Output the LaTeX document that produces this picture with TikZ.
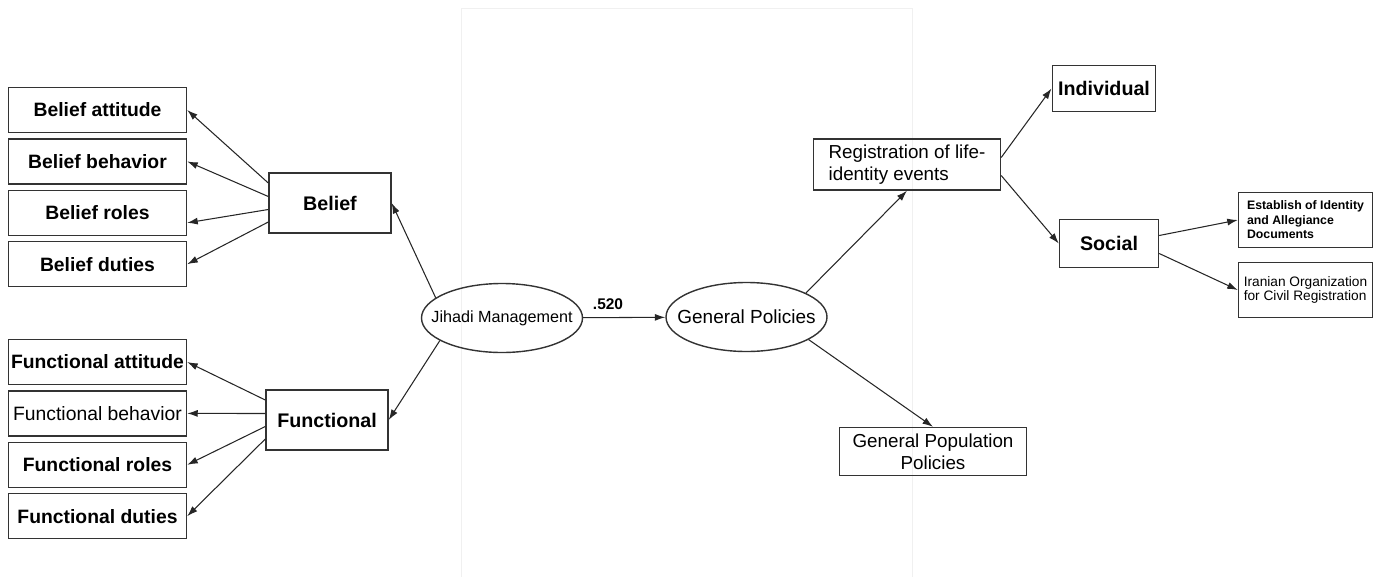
\documentclass[tikz,border=0pt]{standalone}
\usepackage{fontspec}
\setmainfont{Liberation Sans}
\usetikzlibrary{arrows.meta,positioning,shapes}
\tikzstyle{item}=[
	rectangle,
	draw=black!80,
	line width=0.8pt,
	minimum width=3.56cm,
	minimum height=0.9cm,
	inner sep=1pt,
	font=\fontsize{11}{13}\selectfont\bfseries]
\tikzstyle{factor}=[
	rectangle,
	draw=black!80,
	line width=0.8pt,
	minimum width=2.44cm,
	minimum height=1.2cm,
	font=\fontsize{11.2}{13}\selectfont\bfseries]
\tikzstyle{latent}=[
	ellipse,
	draw=black!80,
	line width=0.8pt,
	minimum width=3.22cm,
	minimum height=1.38cm,
	inner sep=0pt]
\tikzstyle{box}=[
	rectangle,
	draw=black!80,
	line width=0.8pt,
	minimum width=3.74cm,
	minimum height=0.96cm,
	font=\fontsize{10.7}{12.4}\selectfont]
\tikzstyle{small}=[
	rectangle,
	draw=black!80,
	line width=0.8pt,
	minimum width=2.68cm,
	minimum height=1.1cm,
	align=left,
	inner sep=1pt]
\tikzstyle{link}=[->,line width=0.6pt,draw=black!85]

\begin{document}
\begin{tikzpicture}[>={Latex[length=6pt,width=4pt]}]
	\useasboundingbox (0,0) rectangle (27.56,-11.54);
	\draw[black!6] (9.22,-11.54) -- (9.22,-0.16) -- (18.24,-0.16) -- (18.24,-11.54);

	\node[item] (batt) at (1.95,-2.2) {Belief attitude};
	\node[item] (bbeh) [below=0.1 of batt] {Belief behavior};
	\node[item] (brol) [below=0.1 of bbeh] {Belief roles};
	\node[item] (bdut) [below=0.1 of brol] {Belief duties};
	\node[item] (fatt) at (1.95,-7.24) {Functional attitude};
	\node[item,font=\fontsize{11}{13}\selectfont] (fbeh) [below=0.1 of fatt] {Functional behavior};
	\node[item] (frol) [below=0.1 of fbeh] {Functional roles};
	\node[item] (fdut) [below=0.1 of frol] {Functional duties};

	\node[factor] (belief) at (6.6,-4.06) {Belief};
	\node[factor] (func) at (6.54,-8.4) {Functional};

	\node[latent,font=\fontsize{9.2}{11}\selectfont] (jm) at (10.04,-6.36) {\makebox[2cm]{Jihadi Management}};
	\node[latent,font=\fontsize{10.8}{12}\selectfont] (gp) at (14.93,-6.34) {\makebox[2cm]{General Policies}};
	\node[font=\fontsize{8.8}{10}\selectfont\bfseries] (coef) at (12.16,-6.08) {.520};

	\node[box,align=left] (reg) at (18.14,-3.29) {Registration of life-\\identity events};
	\node[box,align=center] (gpp) at (18.66,-9.03) {General Population\\Policies};
	\node[factor,minimum width=1.94cm,minimum height=0.92cm] (ind) at (22.08,-1.77) {Individual};
	\node[factor,minimum width=1.98cm,minimum height=0.96cm] (soc) at (22.18,-4.87) {Social};
	\node[small,font=\fontsize{7}{8.2}\selectfont\bfseries] (est) at (26.11,-4.4) {Establish of Identity\\and Allegiance\\Documents};
	\node[small,font=\fontsize{7.8}{8.2}\selectfont] (iran) at (26.11,-5.8) {Iranian Organization\\for Civil Registration};

	\foreach \n/\s/\t in {att/0.4/0, beh/0.13/0, rol/-0.13/-0.2, dut/-0.38/0}{
		\draw[link] ([yshift=\s cm]belief.west) -- ([yshift=\t cm]b\n.east);
		\draw[link] ([yshift=\s cm]func.west) -- (f\n.east);
	}
	\draw[link] (jm.163) -- (belief.east);
	\draw[link] (jm.200) -- (func.east);
	\draw[link] (jm) -- (gp);
	\draw[link] (gp.22) -- (reg.south);
	\draw[link] (gp.340) -- (gpp.north);
	\draw[link] ([yshift=0.14cm]reg.east) -- (ind.west);
	\draw[link] ([yshift=-0.22cm]reg.east) -- (soc.west);
	\draw[link] ([yshift=0.16cm]soc.east) -- (est.west);
	\draw[link] ([yshift=-0.2cm]soc.east) -- (iran.west);
\end{tikzpicture}
\end{document}
